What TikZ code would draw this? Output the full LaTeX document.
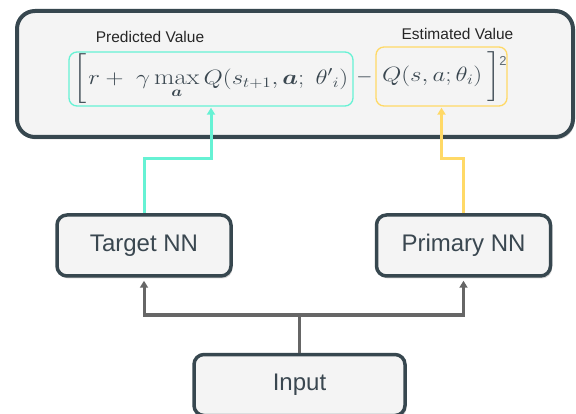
\documentclass[tikz,border=0pt]{standalone}
\usepackage{amsmath}
\usepackage{bm}
\usepackage{graphicx}
\usepackage{fontspec}
\setsansfont{Liberation Sans}
\usetikzlibrary{arrows.meta,shadows}
\definecolor{edgec}{HTML}{37474F}
\definecolor{boxfill}{HTML}{F4F4F4}
\definecolor{tealc}{HTML}{66F2D4}
\definecolor{goldc}{HTML}{FFD966}
\definecolor{wirec}{HTML}{666666}
\definecolor{txtc}{HTML}{3A4750}
\newcommand{\tallbr}{\vrule height 28.5pt depth 18.5pt width 0pt}
\newcommand{\widen}[1]{\scalebox{1.2}[1]{#1}}
\tikzset{
  panel/.style={draw=edgec, line width=4pt, fill=boxfill, rounded corners=18pt,
    drop shadow={shadow xshift=1.5pt,shadow yshift=-2.5pt,opacity=.3}},
  nnbox/.style={draw=edgec, line width=3.5pt, fill=boxfill, rounded corners=10pt,
    minimum width=174pt, minimum height=61pt, inner sep=0pt,
    font=\sffamily\fontsize{24}{28}\selectfont, text=txtc,
    drop shadow={shadow xshift=1.5pt,shadow yshift=-2.5pt,opacity=.3}},
  termbox/.style={line width=1.3pt, rounded corners=8pt, inner sep=0pt,
    font=\fontsize{22}{25}\selectfont, text=txtc},
  lbl/.style={font=\sffamily\fontsize{15.5}{18}\selectfont, text=black!85, inner sep=0.5pt},
  wire/.style={draw=wirec, line width=3pt},
  wirearrow/.style={wire, -{Triangle[length=7pt,width=8pt]}, shorten >=3pt},
  tealline/.style={draw=tealc, line width=3pt, -{Triangle[length=7pt,width=8pt]}, shorten >=1pt},
  goldline/.style={draw=goldc, line width=3pt, -{Triangle[length=7pt,width=8pt]}, shorten >=1pt}
}
\begin{document}
\begin{tikzpicture}[x=1pt,y=-1pt]
\clip (0,0) rectangle (576,414);
\fill[white] (0,0) rectangle (576,414);
% main panel
\node[panel, minimum width=556pt, minimum height=126pt] (panel) at (295,74) {};
% labels
\node[lbl] (pvl) at (150,37) {Predicted Value};
\node[lbl] (evl) at (457.5,34) {Estimated Value};
% terms
\node[termbox, draw=tealc, minimum width=284pt, minimum height=54pt] (pv) at (211,79)
  {\widen{$\left[\tallbr\right.\!r +\; \gamma \max\limits_{\bm{a}} Q(s_{t+1},\bm{a};\;{\theta'}_{i})$}};
\node[text=txtc, font=\fontsize{22}{25}\selectfont, inner sep=0pt] (minus) at (364.5,77) {$-$};
\node[termbox, draw=goldc, minimum width=131pt, minimum height=59pt] (ev) at (441.5,76.5)
  {\widen{$Q(s,a;\theta_i)\left.\tallbr\right]$}};
\node[font=\sffamily\fontsize{13}{13}\selectfont, text=txtc!80, inner sep=0.5pt] (sq) at (503,61) {2};
% networks
\node[nnbox] (target) at (144,245.5) {Target NN};
\node[nnbox] (primary) at (463.5,245.5) {Primary NN};
\node[nnbox, minimum width=211pt] (input) at (299.5,385) {Input};
% connectors
\coordinate (j) at (input.north |- 0,315);
\draw[wire] (input.north) -- (j);
\draw[wirearrow] (j) -| (target.south);
\draw[wirearrow] (j) -| (primary.south);
\draw[tealline] (target.north) -- ++(0,-55) -| (pv.south);
\draw[goldline] (primary.north) -- ++(0,-55) -| (ev.south);
\end{tikzpicture}
\end{document}
